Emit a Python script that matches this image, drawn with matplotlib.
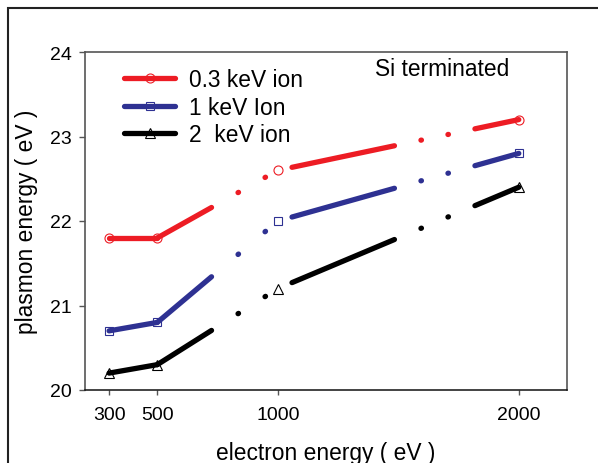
import matplotlib
matplotlib.use('Agg')
import matplotlib.pyplot as plt
import numpy as np
from matplotlib.lines import Line2D
from matplotlib.patches import Rectangle

plt.rcParams['font.family'] = ['Liberation Sans', 'DejaVu Sans']
plt.rcParams['lines.scale_dashes'] = False

# ---- data ----
electron_energy = [300, 500, 1000, 2000]
series_labels = ['0.3 keV ion', '1 keV Ion', '2  keV ion']
plasmon_03keV = [21.8, 21.8, 22.6, 23.2]
plasmon_1keV = [20.7, 20.8, 22.0, 22.8]
plasmon_2keV = [20.2, 20.3, 21.2, 22.4]
x_ticks = [300, 500, 1000, 2000]
y_ticks = [20, 21, 22, 23, 24]
annotation = 'Si terminated'

# ---- style ----
colors = ['#ED1C24', '#2E3192', '#000000']
markers = ['o', 's', '^']
msizes = [6.5, 5.8, 6.5]
DPI = 100
LW = 3.8
DASH_X = 425   # dash length measured along x (eV)
GAP_X = 110
DOT_X = 2
FS_BIG = 16.4
FS_TICK = 14

W, H = 598, 464
fig = plt.figure(figsize=(W / DPI, H / DPI), dpi=DPI)
ax = fig.add_axes([85 / W, 73 / H, 482 / W, 338 / H])
ax.set_xlim(200, 2200)
ax.set_ylim(20, 24)

sx = (ax.transData.transform((1, 20)) - ax.transData.transform((0, 20)))[0]
pattern_x_px = np.array([DASH_X, GAP_X, DOT_X, GAP_X, DOT_X, GAP_X]) * sx
period_px = pattern_x_px.sum()


def draw_series(xs, ys, color, marker, ms):
    pts = ax.transData.transform(np.column_stack([xs, ys]))
    cum = 0.0
    for i in range(len(xs) - 1):
        d = pts[i + 1] - pts[i]
        r = np.hypot(d[0], d[1]) / d[0]
        pat = tuple(pattern_x_px * r * 72 / DPI)
        off = (cum % period_px) * r * 72 / DPI
        ax.plot(xs[i:i + 2], ys[i:i + 2], color=color, lw=LW,
                linestyle=(off, pat), dash_capstyle='round',
                solid_capstyle='round', zorder=2)
        cum += d[0]
    ax.plot(xs, ys, linestyle='none', marker=marker, ms=ms, mfc='none',
            mec=color, mew=0.8, zorder=3)


for ys, c, m, ms in zip([plasmon_03keV, plasmon_1keV, plasmon_2keV], colors, markers, msizes):
    draw_series(electron_energy, ys, c, m, ms)

handles = [Line2D([], [], color=c, lw=LW, marker=m, ms=ms, mfc='none', mec=c,
                  mew=0.8, solid_capstyle='round')
           for c, m, ms in zip(colors, markers, msizes)]
ax.legend(handles, series_labels, loc='upper left',
          bbox_to_anchor=((124 - 85) / 482, (391 - 69) / 338),
          frameon=False, fontsize=FS_BIG, handlelength=2.25, handletextpad=0.62,
          labelspacing=0.2, borderpad=0, borderaxespad=0)

ax.text((375 - 85) / 482, (391 - 76.5) / 338, annotation, transform=ax.transAxes,
        fontsize=FS_BIG, ha='left', va='baseline')

ax.set_xticks(x_ticks)
ax.set_yticks(y_ticks)
ax.tick_params(axis='y', direction='out', length=4.3, width=1, color='#555555',
               labelsize=FS_TICK, pad=5.5)
ax.tick_params(axis='x', direction='out', length=3.6, width=1, color='#555555',
               labelsize=FS_TICK, pad=8.0)

ax.set_xlabel('electron energy ( eV )', fontsize=FS_BIG)
ax.xaxis.set_label_coords(0.5, (391 - 442) / 338)
ax.set_ylabel('plasmon energy ( eV )', fontsize=FS_BIG)
ax.yaxis.set_label_coords((38 - 85) / 482, 0.5)

for side in ['top', 'right', 'left']:
    ax.spines[side].set_color('#555555')
    ax.spines[side].set_linewidth(1.2)
ax.spines['bottom'].set_color('#111111')
ax.spines['bottom'].set_linewidth(1.1)

fig.add_artist(Rectangle((8 / W, -0.1), 1.2, (H - 9) / H + 0.1,
                         transform=fig.transFigure, fill=False, lw=1.5,
                         ec='#222222', clip_on=False))

fig.savefig('out.png', dpi=DPI)
